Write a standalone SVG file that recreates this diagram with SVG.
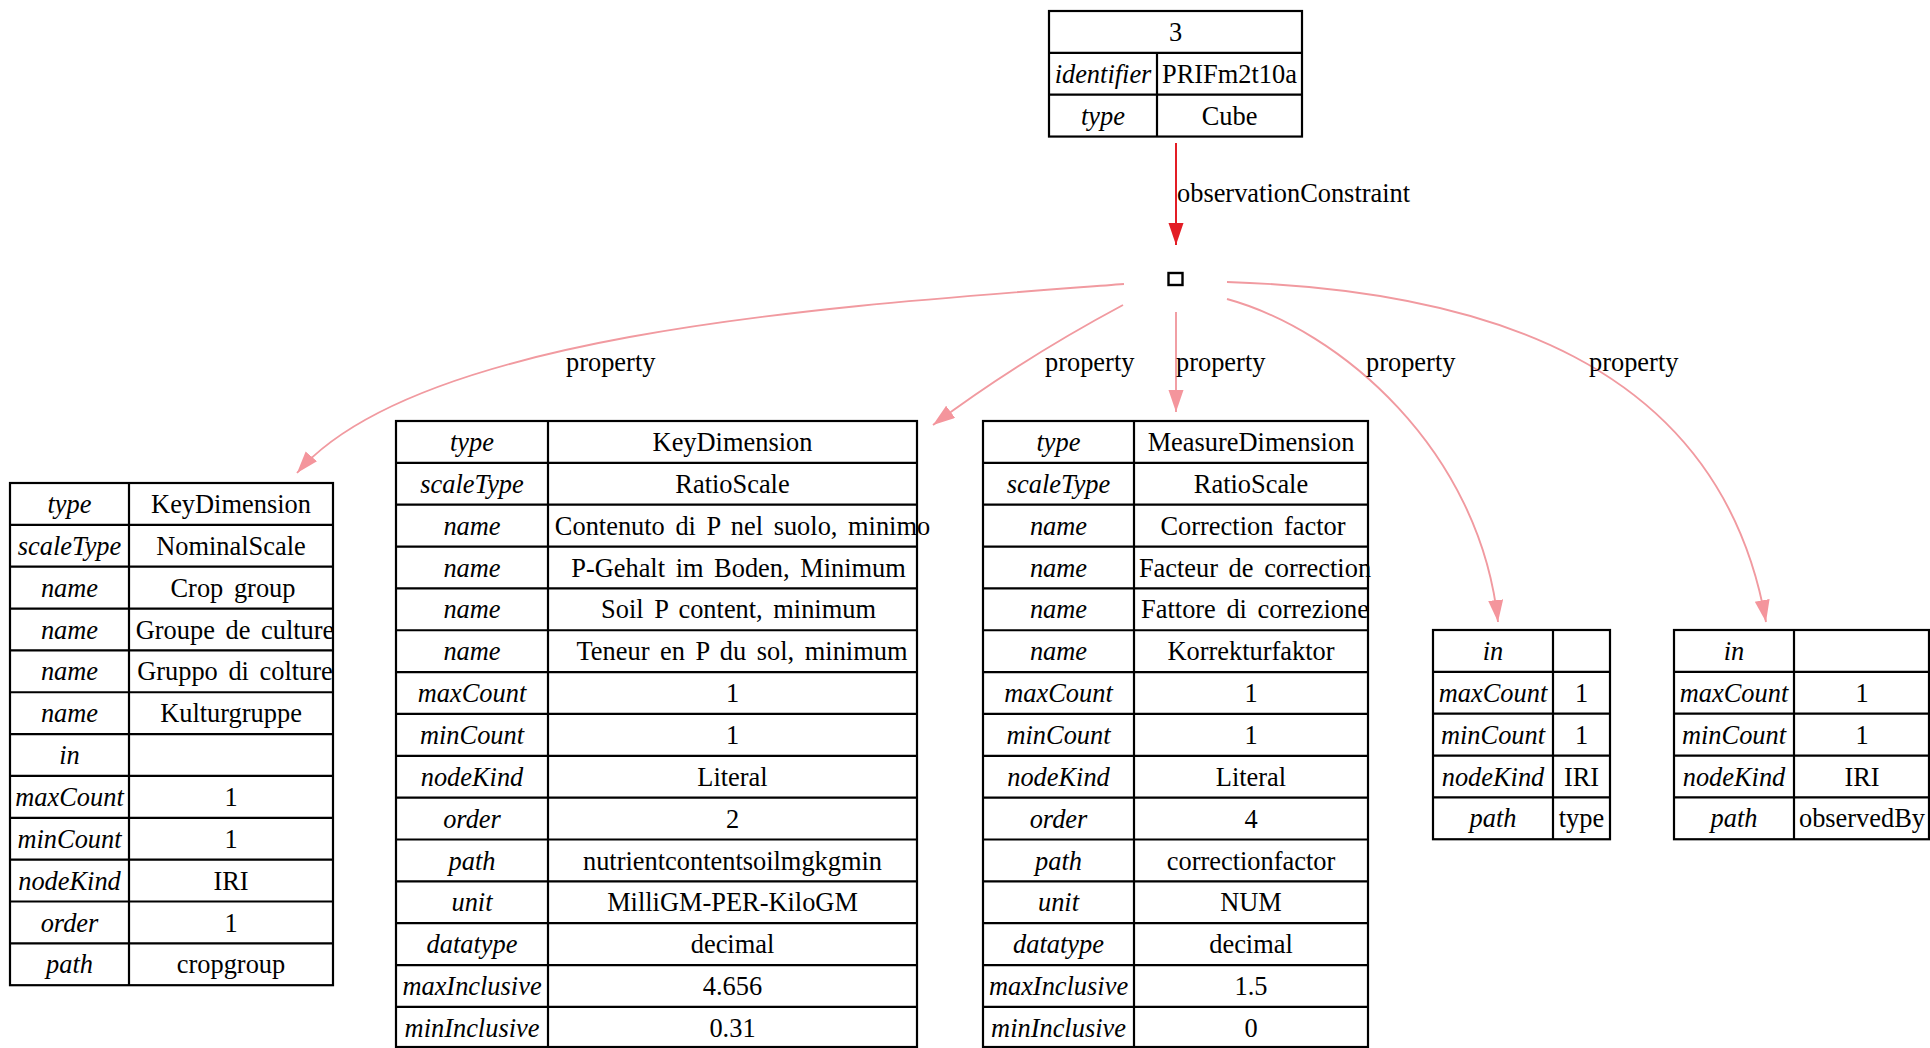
<svg xmlns="http://www.w3.org/2000/svg" width="1930" height="1048" viewBox="0 0 1930 1048">
  <style>
    text { font-family: "Liberation Serif", "Times New Roman", serif; font-size: 26.4px; word-spacing: 4px; fill: #000; }
    .k { font-style: italic; text-anchor: middle; }
    .v { text-anchor: middle; }
    .lbl { text-anchor: start; }
    .frame { fill: #fff; stroke: #000; stroke-width: 2.2; }
    .grid { stroke: #000; stroke-width: 2.2; fill: none; }
    .prop { fill: none; stroke: #f19aa0; stroke-width: 1.9; }
    .obs { fill: none; stroke: #e31d25; stroke-width: 2; }
  </style>
  <defs>
    <marker id="head-prop" markerUnits="userSpaceOnUse" markerWidth="24" markerHeight="16" refX="22" refY="7.5" orient="auto">
      <path d="M0,0 L22,7.5 L0,15 z" fill="#f4959c"/>
    </marker>
    <marker id="head-obs" markerUnits="userSpaceOnUse" markerWidth="24" markerHeight="16" refX="22" refY="7.5" orient="auto">
      <path d="M0,0 L22,7.5 L0,15 z" fill="#e31d25"/>
    </marker>
  </defs>

  <rect width="1930" height="1048" fill="#fff"/>

  <!-- connectors -->
  <g id="edges">
    <path class="obs" d="M1176,143 L1176,245" marker-end="url(#head-obs)"/>
    <text class="lbl" x="1177" y="202">observationConstraint</text>

    <path class="prop" d="M1124,284 C850,305 420,330 297,473" marker-end="url(#head-prop)"/>
    <text class="lbl" x="566" y="371">property</text>

    <path class="prop" d="M1123,305 Q1020,360 933,425" marker-end="url(#head-prop)"/>
    <text class="lbl" x="1045" y="371">property</text>

    <path class="prop" d="M1176,312 L1176,412" marker-end="url(#head-prop)"/>
    <text class="lbl" x="1176" y="371">property</text>

    <path class="prop" d="M1227,299 C1340,330 1480,450 1498,622" marker-end="url(#head-prop)"/>
    <text class="lbl" x="1366" y="371">property</text>

    <path class="prop" d="M1227,282 C1480,290 1720,360 1766,622" marker-end="url(#head-prop)"/>
    <text class="lbl" x="1589" y="371">property</text>
  </g>

  <!-- cube node -->
  <g id="node-cube">
    <rect class="frame" x="1049" y="11" width="253" height="125.55"/>
    <path class="grid" d="M1049,52.85 H1302 M1049,94.7 H1302 M1157,52.85 V136.55"/>
    <text class="v" x="1175.5" y="41">3</text>
    <text class="k" x="1103" y="82.85">identifier</text>
    <text class="v" x="1229.5" y="82.85">PRIFm2t10a</text>
    <text class="k" x="1103" y="124.7">type</text>
    <text class="v" x="1229.5" y="124.7">Cube</text>
  </g>

  <!-- blank node -->
  <g id="node-blank">
    <rect x="1168.5" y="273" width="14" height="12" fill="#fff" stroke="#000" stroke-width="2.4"/>
  </g>

  <!-- crop group dimension -->
  <g id="node-cropgroup">
    <rect class="frame" x="10" y="483" width="323" height="502.2"/>
    <path class="grid" d="M10,524.85 H333 M10,566.7 H333 M10,608.55 H333 M10,650.4 H333 M10,692.25 H333 M10,734.1 H333 M10,775.95 H333 M10,817.8 H333 M10,859.65 H333 M10,901.5 H333 M10,943.35 H333 M129,483 V985.2"/>
    <text class="k" x="69.5" y="513">type</text><text class="v" x="231" y="513">KeyDimension</text>
    <text class="k" x="69.5" y="554.85">scaleType</text><text class="v" x="231" y="554.85">NominalScale</text>
    <text class="k" x="69.5" y="596.7">name</text><text class="v" x="233" y="596.7">Crop group</text>
    <text class="k" x="69.5" y="638.55">name</text><text class="v" x="235" y="638.55">Groupe de culture</text>
    <text class="k" x="69.5" y="680.4">name</text><text class="v" x="235" y="680.4">Gruppo di colture</text>
    <text class="k" x="69.5" y="722.25">name</text><text class="v" x="231" y="722.25">Kulturgruppe</text>
    <text class="k" x="69.5" y="764.1">in</text>
    <text class="k" x="69.5" y="805.95">maxCount</text><text class="v" x="231" y="805.95">1</text>
    <text class="k" x="69.5" y="847.8">minCount</text><text class="v" x="231" y="847.8">1</text>
    <text class="k" x="69.5" y="889.65">nodeKind</text><text class="v" x="231" y="889.65">IRI</text>
    <text class="k" x="69.5" y="931.5">order</text><text class="v" x="231" y="931.5">1</text>
    <text class="k" x="69.5" y="973.35">path</text><text class="v" x="231" y="973.35">cropgroup</text>
  </g>

  <!-- soil P content dimension -->
  <g id="node-soilp">
    <rect class="frame" x="396" y="421" width="521" height="626"/>
    <path class="grid" d="M396,462.85 H917 M396,504.7 H917 M396,546.55 H917 M396,588.4 H917 M396,630.25 H917 M396,672.1 H917 M396,713.95 H917 M396,755.8 H917 M396,797.65 H917 M396,839.5 H917 M396,881.35 H917 M396,923.2 H917 M396,965.05 H917 M396,1006.9 H917 M548,421 V1047"/>
    <text class="k" x="472" y="451">type</text><text class="v" x="732.5" y="451">KeyDimension</text>
    <text class="k" x="472" y="492.85">scaleType</text><text class="v" x="732.5" y="492.85">RatioScale</text>
    <text class="k" x="472" y="534.7">name</text><text class="v" x="742.5" y="534.7">Contenuto di P nel suolo, minimo</text>
    <text class="k" x="472" y="576.55">name</text><text class="v" x="738.5" y="576.55">P-Gehalt im Boden, Minimum</text>
    <text class="k" x="472" y="618.4">name</text><text class="v" x="738.5" y="618.4">Soil P content, minimum</text>
    <text class="k" x="472" y="660.25">name</text><text class="v" x="742" y="660.25">Teneur en P du sol, minimum</text>
    <text class="k" x="472" y="702.1">maxCount</text><text class="v" x="732.5" y="702.1">1</text>
    <text class="k" x="472" y="743.95">minCount</text><text class="v" x="732.5" y="743.95">1</text>
    <text class="k" x="472" y="785.8">nodeKind</text><text class="v" x="732.5" y="785.8">Literal</text>
    <text class="k" x="472" y="827.65">order</text><text class="v" x="732.5" y="827.65">2</text>
    <text class="k" x="472" y="869.5">path</text><text class="v" x="732.5" y="869.5">nutrientcontentsoilmgkgmin</text>
    <text class="k" x="472" y="911.35">unit</text><text class="v" x="732.5" y="911.35">MilliGM-PER-KiloGM</text>
    <text class="k" x="472" y="953.2">datatype</text><text class="v" x="732.5" y="953.2">decimal</text>
    <text class="k" x="472" y="995.05">maxInclusive</text><text class="v" x="732.5" y="995.05">4.656</text>
    <text class="k" x="472" y="1036.9">minInclusive</text><text class="v" x="732.5" y="1036.9">0.31</text>
  </g>

  <!-- correction factor measure -->
  <g id="node-correction">
    <rect class="frame" x="983" y="421" width="385" height="626"/>
    <path class="grid" d="M983,462.85 H1368 M983,504.7 H1368 M983,546.55 H1368 M983,588.4 H1368 M983,630.25 H1368 M983,672.1 H1368 M983,713.95 H1368 M983,755.8 H1368 M983,797.65 H1368 M983,839.5 H1368 M983,881.35 H1368 M983,923.2 H1368 M983,965.05 H1368 M983,1006.9 H1368 M1134,421 V1047"/>
    <text class="k" x="1058.5" y="451">type</text><text class="v" x="1251" y="451">MeasureDimension</text>
    <text class="k" x="1058.5" y="492.85">scaleType</text><text class="v" x="1251" y="492.85">RatioScale</text>
    <text class="k" x="1058.5" y="534.7">name</text><text class="v" x="1253" y="534.7">Correction factor</text>
    <text class="k" x="1058.5" y="576.55">name</text><text class="v" x="1255" y="576.55">Facteur de correction</text>
    <text class="k" x="1058.5" y="618.4">name</text><text class="v" x="1255" y="618.4">Fattore di correzione</text>
    <text class="k" x="1058.5" y="660.25">name</text><text class="v" x="1251" y="660.25">Korrekturfaktor</text>
    <text class="k" x="1058.5" y="702.1">maxCount</text><text class="v" x="1251" y="702.1">1</text>
    <text class="k" x="1058.5" y="743.95">minCount</text><text class="v" x="1251" y="743.95">1</text>
    <text class="k" x="1058.5" y="785.8">nodeKind</text><text class="v" x="1251" y="785.8">Literal</text>
    <text class="k" x="1058.5" y="827.65">order</text><text class="v" x="1251" y="827.65">4</text>
    <text class="k" x="1058.5" y="869.5">path</text><text class="v" x="1251" y="869.5">correctionfactor</text>
    <text class="k" x="1058.5" y="911.35">unit</text><text class="v" x="1251" y="911.35">NUM</text>
    <text class="k" x="1058.5" y="953.2">datatype</text><text class="v" x="1251" y="953.2">decimal</text>
    <text class="k" x="1058.5" y="995.05">maxInclusive</text><text class="v" x="1251" y="995.05">1.5</text>
    <text class="k" x="1058.5" y="1036.9">minInclusive</text><text class="v" x="1251" y="1036.9">0</text>
  </g>

  <!-- type property shape -->
  <g id="node-typepath">
    <rect class="frame" x="1433" y="630" width="177" height="209.25"/>
    <path class="grid" d="M1433,671.85 H1610 M1433,713.7 H1610 M1433,755.55 H1610 M1433,797.4 H1610 M1553,630 V839.25"/>
    <text class="k" x="1493" y="660">in</text>
    <text class="k" x="1493" y="701.85">maxCount</text><text class="v" x="1581.5" y="701.85">1</text>
    <text class="k" x="1493" y="743.7">minCount</text><text class="v" x="1581.5" y="743.7">1</text>
    <text class="k" x="1493" y="785.55">nodeKind</text><text class="v" x="1581.5" y="785.55">IRI</text>
    <text class="k" x="1493" y="827.4">path</text><text class="v" x="1581.5" y="827.4">type</text>
  </g>

  <!-- observedBy property shape -->
  <g id="node-observedby">
    <rect class="frame" x="1674" y="630" width="255" height="209.25"/>
    <path class="grid" d="M1674,671.85 H1929 M1674,713.7 H1929 M1674,755.55 H1929 M1674,797.4 H1929 M1794,630 V839.25"/>
    <text class="k" x="1734" y="660">in</text>
    <text class="k" x="1734" y="701.85">maxCount</text><text class="v" x="1862" y="701.85">1</text>
    <text class="k" x="1734" y="743.7">minCount</text><text class="v" x="1862" y="743.7">1</text>
    <text class="k" x="1734" y="785.55">nodeKind</text><text class="v" x="1862" y="785.55">IRI</text>
    <text class="k" x="1734" y="827.4">path</text><text class="v" x="1862" y="827.4">observedBy</text>
  </g>
</svg>
